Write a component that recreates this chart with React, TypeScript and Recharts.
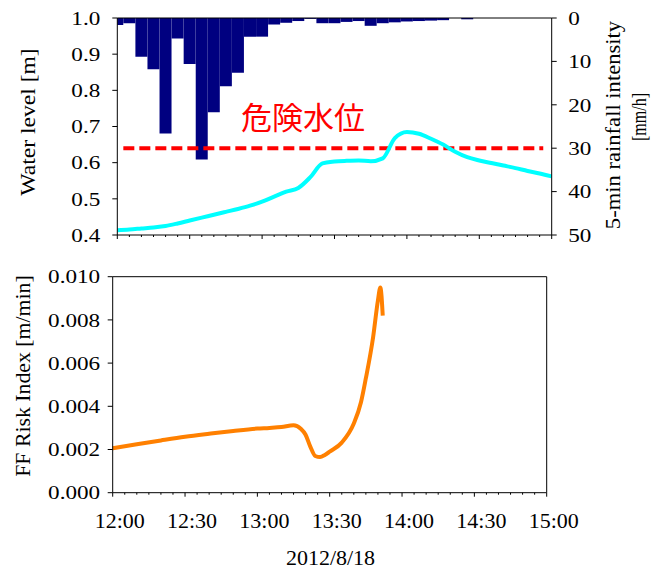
import { Bar, ComposedChart, Line, LineChart, ReferenceLine, XAxis, YAxis } from 'recharts';

const SERIF = '"Liberation Serif", "Times New Roman", serif';

// minutes after 12:00, one entry per 5-min rainfall bar
const minutes = [
  0, 5, 10, 15, 20, 25, 30, 35, 40, 45, 50, 55, 60, 65, 70, 75, 80, 85, 90, 95, 100, 105, 110, 115, 120,
  125, 130, 135, 140, 145, 150, 155, 160, 165, 170, 175, 180,
];
const majorMinutes = [0, 30, 60, 90, 120, 150, 180];
const timeLabels = ['12:00', '12:30', '13:00', '13:30', '14:00', '14:30', '15:00'];

const rainfall = [
  1.6, 1.2, 8.9, 11.8, 26.6, 4.7, 10.6, 32.6, 21.7, 15.7, 12.6, 4.3, 4.3, 1.5, 1.1, 0.7, 0.2, 1.2, 1.2,
  0.9, 0.7, 1.8, 1.2, 1.0, 0.8, 0.7, 0.6, 0.5, 0, 0.3, 0, 0, 0, 0, 0, 0, 0,
];
const waterLevel = [
  0.413, 0.415, 0.418, 0.421, 0.425, 0.432, 0.44, 0.448, 0.456, 0.464, 0.472, 0.481, 0.492, 0.506, 0.52,
  0.53, 0.56, 0.598, 0.603, 0.605, 0.606, 0.604, 0.612, 0.668, 0.685, 0.68, 0.666, 0.65, 0.63, 0.615,
  0.606, 0.599, 0.592, 0.585, 0.577, 0.57, 0.562,
];
const warningLevel = 0.64;
const levelTicks = [0.4, 0.5, 0.6, 0.7, 0.8, 0.9, 1.0];
const rainTicks = [0, 10, 20, 30, 40, 50];

const riskMinutes = [0, 10, 20, 30, 40, 50, 60, 65, 70, 75, 78, 80, 82, 84, 86, 88, 90, 95, 100, 103, 105, 108, 110, 111, 112];
const riskIndex = [
  0.00206, 0.00224, 0.00242, 0.00259, 0.00273, 0.00286, 0.00297, 0.003, 0.00304, 0.00312, 0.00296,
  0.00268, 0.00212, 0.0017, 0.00165, 0.00175, 0.0019, 0.00232, 0.0032, 0.0042, 0.0053, 0.0072, 0.0089,
  0.0095, 0.0082,
];
const riskTicks = [0, 0.002, 0.004, 0.006, 0.008, 0.01];

const topData = minutes.map((t, i) => ({ t, rain: rainfall[i], level: waterLevel[i] }));
const riskData = riskMinutes.map((t, i) => ({ t, risk: riskIndex[i] }));

function TimeTick(props: any) {
  const { x, y, payload, showLabel } = props;
  const v = payload.value;
  const major = majorMinutes.includes(v);
  return (
    <g>
      <line x1={x} y1={y} x2={x} y2={y + (major ? 4 : 2)} stroke="#000" />
      {showLabel && major && (
        <text x={x + 7} y={y + 35.3} textAnchor="middle" fontFamily={SERIF} fontSize={22} fill="#000">
          {timeLabels[majorMinutes.indexOf(v)]}
        </text>
      )}
    </g>
  );
}

// the reference's axis numbers are drawn a little wider than plain Times
function ValueTick(props: any) {
  const { x, y, payload, textAnchor, digits } = props;
  return (
    <text
      transform={`translate(${x},${y}) scale(1.22,1)`}
      dy="0.355em"
      textAnchor={textAnchor}
      fontFamily={SERIF}
      fontSize={19}
      fill="#000"
    >
      {Number(payload.value).toFixed(digits)}
    </text>
  );
}

function SideTitle({ x, y, sx, children }: { x: number; y: number; sx: number; children: string }) {
  return (
    <text
      transform={`translate(${x},${y}) rotate(-90) scale(${sx},1)`}
      textAnchor="middle"
      dominantBaseline="central"
      fontFamily={SERIF}
      fontSize={20}
      fill="#000"
    >
      {children}
    </text>
  );
}

const axisStroke = { stroke: '#000' };

export default function App() {
  return (
    <div style={{ position: 'absolute', left: 0, top: 0, width: 651, height: 569, background: '#fff' }}>
      <div style={{ position: 'absolute', left: 0, top: 0 }}>
        <ComposedChart
          width={651}
          height={260}
          data={topData}
          margin={{ top: 18, right: 39.3, bottom: 0, left: 47.3 }}
          barCategoryGap={0}
          barGap={0}
        >
          <XAxis
            dataKey="t"
            type="number"
            domain={[0, 180]}
            ticks={minutes}
            interval={0}
            allowDataOverflow
            height={25}
            tickSize={0}
            tickMargin={0}
            tickLine={false}
            axisLine={axisStroke}
            tick={<TimeTick showLabel={false} />}
          />
          <YAxis
            yAxisId="level"
            domain={[0.4, 1.0]}
            ticks={levelTicks}
            width={70}
            tickSize={5}
            tickMargin={12}
            axisLine={axisStroke}
            tickLine={axisStroke}
            tick={<ValueTick digits={1} />}
          />
          <YAxis
            yAxisId="rain"
            orientation="right"
            reversed
            domain={[0, 50]}
            ticks={rainTicks}
            width={60}
            tickSize={5}
            tickMargin={11.5}
            axisLine={axisStroke}
            tickLine={axisStroke}
            tick={<ValueTick digits={0} />}
          />
          <Bar yAxisId="rain" dataKey="rain" fill="#000080" isAnimationActive={false} />
          <ReferenceLine yAxisId="level" y={1.0} stroke="#000" ifOverflow="visible" />
          <ReferenceLine
            yAxisId="level"
            segment={[
              { x: 2.5, y: warningLevel },
              { x: 176.5, y: warningLevel },
            ]}
            stroke="#ff0000"
            strokeWidth={4}
            strokeDasharray="11 5"
          />
          <Line
            yAxisId="level"
            type="monotone"
            dataKey="level"
            stroke="#00ffff"
            strokeWidth={4}
            dot={false}
            isAnimationActive={false}
          />
        </ComposedChart>
      </div>

      <div style={{ position: 'absolute', left: 0, top: 260 }}>
        <LineChart
          width={651}
          height={309}
          data={riskData}
          margin={{ top: 16.7, right: 104.3, bottom: 36.3, left: 42.7 }}
        >
          <XAxis
            dataKey="t"
            type="number"
            domain={[0, 180]}
            ticks={minutes}
            interval={0}
            height={40}
            tickSize={0}
            tickMargin={0}
            tickLine={false}
            axisLine={axisStroke}
            tick={<TimeTick showLabel />}
          />
          <YAxis
            domain={[0, 0.01]}
            ticks={riskTicks}
            width={70}
            tickSize={5}
            tickMargin={7.5}
            axisLine={axisStroke}
            tickLine={axisStroke}
            tick={<ValueTick digits={3} />}
          />
          <ReferenceLine y={0.01} stroke="#000" ifOverflow="visible" />
          <ReferenceLine x={180} stroke="#000" ifOverflow="visible" />
          <Line
            type="monotone"
            dataKey="risk"
            stroke="#ff8000"
            strokeWidth={4}
            dot={false}
            isAnimationActive={false}
          />
        </LineChart>
      </div>

      <svg
        width={651}
        height={569}
        style={{ position: 'absolute', left: 0, top: 0, pointerEvents: 'none' }}
      >
        <SideTitle x={29} y={122} sx={1.18}>
          Water level [m]
        </SideTitle>
        <SideTitle x={613.5} y={125} sx={1.13}>
          5-min rainfall intensity
        </SideTitle>
        <SideTitle x={639} y={117} sx={0.8}>
          [mm/h]
        </SideTitle>
        <SideTitle x={23} y={376} sx={1.09}>
          FF Risk Index [m/min]
        </SideTitle>
        <text
          x={303}
          y={115}
          textAnchor="middle"
          dominantBaseline="central"
          fontFamily='"Noto Sans CJK JP", sans-serif'
          fontSize={31}
          fill="#ff0000"
        >
          危険水位
        </text>
        <text x={330.5} y={565} textAnchor="middle" fontFamily={SERIF} fontSize={22} fill="#000">
          2012/8/18
        </text>
      </svg>
    </div>
  );
}
